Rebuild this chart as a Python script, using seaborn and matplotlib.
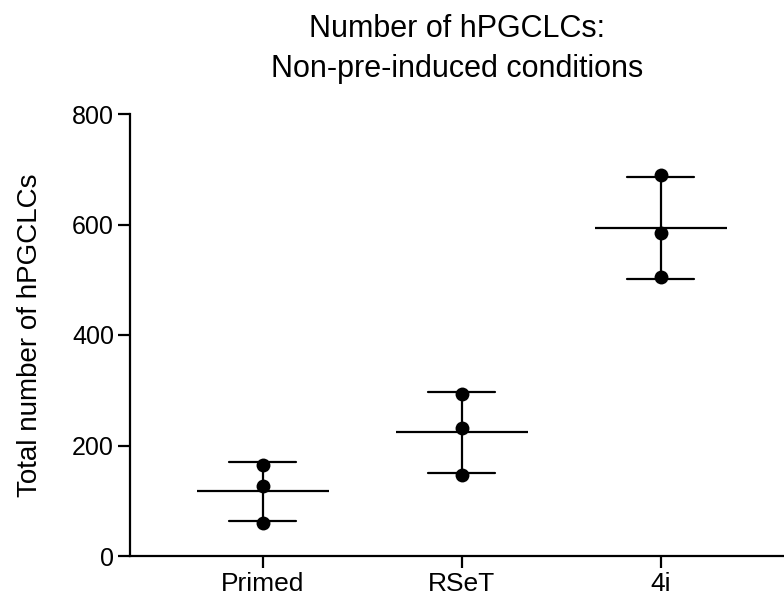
import matplotlib
matplotlib.use("Agg")
import matplotlib.pyplot as plt
import seaborn as sns
import pandas as pd

categories = ["Primed", "RSeT", "4i"]
primed = [165, 127, 60]
rset = [293, 232, 147]
four_i = [690, 585, 505]
yticks = [0, 200, 400, 600, 800]

sns.set_style("ticks")
plt.rcParams["font.family"] = ["Liberation Sans", "DejaVu Sans"]
plt.rcParams["text.color"] = "black"
plt.rcParams["axes.labelcolor"] = "black"

df = pd.DataFrame({
    "condition": [categories[0]] * len(primed) + [categories[1]] * len(rset) + [categories[2]] * len(four_i),
    "count": primed + rset + four_i,
})

fig = plt.figure(figsize=(7.84, 6.01), dpi=100)
ax = fig.add_axes([130 / 784, 1 - 556 / 601, 1 - 130 / 784, (556 - 114) / 601])

sns.pointplot(data=df, x="condition", y="count", order=categories, errorbar="sd",
              capsize=0.335, linestyle="none", marker="_", markersize=95,
              markeredgewidth=1.6, color="black", err_kws={"linewidth": 1.6},
              ax=ax, zorder=2)
sns.stripplot(data=df, x="condition", y="count", order=categories, jitter=False,
              color="black", size=10, linewidth=0, ax=ax, zorder=3)

ax.set_xlim(-0.667, 2.62)
ax.set_ylim(0, 800)
ax.set_yticks(yticks)
ax.spines["top"].set_visible(False)
ax.spines["right"].set_visible(False)
for s in ["left", "bottom"]:
    ax.spines[s].set_linewidth(1.6)
    ax.spines[s].set_color("black")
ax.tick_params(axis="both", length=8.5, width=1.6, colors="black", pad=3)
ax.tick_params(axis="y", labelsize=18)
ax.tick_params(axis="x", labelsize=19)
ax.set_xlabel("")
ax.set_ylabel("Total number of hPGCLCs", fontsize=20, labelpad=21, color="black")
ax.set_title("Number of hPGCLCs:\nNon-pre-induced conditions", fontsize=22, pad=27,
             linespacing=1.4, color="black")

fig.savefig("out.png", dpi=100)
